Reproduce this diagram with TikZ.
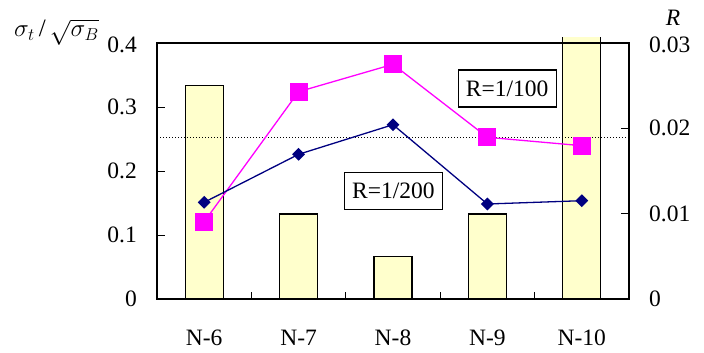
\documentclass[tikz,border=0pt]{standalone}
\usepackage{fontspec}
\setmainfont{Liberation Serif}
\usetikzlibrary{shapes.geometric}
\definecolor{barfill}{HTML}{FFFFCC}
\definecolor{pinkc}{HTML}{FF00FF}
\definecolor{navyc}{HTML}{000080}
\begin{document}
\begin{tikzpicture}[x=1pt,y=-1pt,
  lbl/.style={font=\fontsize{23.5}{26}\selectfont, inner sep=0pt},
  barbox/.style={draw=black, line width=1.3pt, fill=barfill},
  sq/.style={rectangle, fill=pinkc, minimum size=18pt, inner sep=0pt},
  dia/.style={diamond, fill=navyc, minimum size=13pt, inner sep=0pt},
  keybox/.style={draw=black, line width=1.2pt, fill=white, font=\fontsize{23.5}{26}\selectfont, minimum width=98pt, minimum height=37pt, inner sep=0pt}]
\useasboundingbox (0,0) rectangle (704,353);
% bars
\foreach \c/\t in {204.2/85.7, 298.6/214.0, 393.0/256.3, 487.4/214.0}{
  \draw[barbox] (\c-19,299) rectangle (\c+19,\t);
}
\fill[barfill] (562.8,299) rectangle (600.8,37);
\draw[line width=1.3pt] (562.8,299) -- (562.8,37) (600.8,299) -- (600.8,37);
% frame
\draw[line width=1.3pt] (157,43) rectangle (629,299);
% left ticks
\foreach \y in {107,171,235}{\draw[line width=0.9pt] (157,\y) -- (165,\y);}
% right ticks
\foreach \y in {128.3,213.7}{\draw[line width=0.9pt] (629,\y) -- (621,\y);}
% bottom ticks
\foreach \x in {251.4,345.8,440.2,534.6}{\draw[line width=0.9pt] (\x,299) -- (\x,292);}
% dotted line
\draw[line width=1pt, dotted] (157,137.7) -- (629,137.7);
% data points
\foreach \i/\x/\y in {1/204.2/221.7, 2/298.6/91.7, 3/393.0/64.3, 4/487.4/137.3, 5/581.8/145.7}{
  \coordinate (p\i) at (\x,\y);
}
\foreach \i/\x/\y in {1/204.2/202.3, 2/298.6/154.3, 3/393.0/124.7, 4/487.4/204.0, 5/581.8/200.7}{
  \coordinate (d\i) at (\x,\y);
}
\draw[pinkc, line width=1.3pt] (p1) -- (p2) -- (p3) -- (p4) -- (p5);
\draw[navyc, line width=1.3pt] (d1) -- (d2) -- (d3) -- (d4) -- (d5);
\foreach \i in {1,...,5}{
  \node[sq] (ps\i) at (p\i) {};
  \node[dia] (ds\i) at (d\i) {};
}
% keys
\node[keybox] (k200) at (393.3,190.8) {R=1/200};
\node[keybox] (k100) at (507.2,88.5) {R=1/100};
% left labels
\node[lbl, anchor=east] (l0) at (137,299) {0};
\node[lbl, anchor=east] (l1) at (137,235) {0.1};
\node[lbl, anchor=east] (l2) at (137,171) {0.2};
\node[lbl, anchor=east] (l3) at (137,107) {0.3};
\node[lbl, anchor=east] (l4) at (137,45) {0.4};
% right labels
\node[lbl, anchor=west] (r0) at (649,299) {0};
\node[lbl, anchor=west] (r1) at (649,213.7) {0.01};
\node[lbl, anchor=west] (r2) at (649,128.3) {0.02};
\node[lbl, anchor=west] (r3) at (649,45) {0.03};
\node[lbl] (rt) at (673,18) {\textit{R}};
% title
\node[lbl, anchor=base west, font=\fontsize{25}{28}\selectfont] (tt) at (14,37) {$\sigma_t$\,/\,$\sqrt{\sigma_B}$};
% category labels
\foreach \c/\n [count=\i] in {204.2/N-6, 298.6/N-7, 393.0/N-8, 487.4/N-9, 581.8/N-10}{
  \node[lbl] (c\i) at (\c,338) {\n};
}
\end{tikzpicture}
\end{document}
